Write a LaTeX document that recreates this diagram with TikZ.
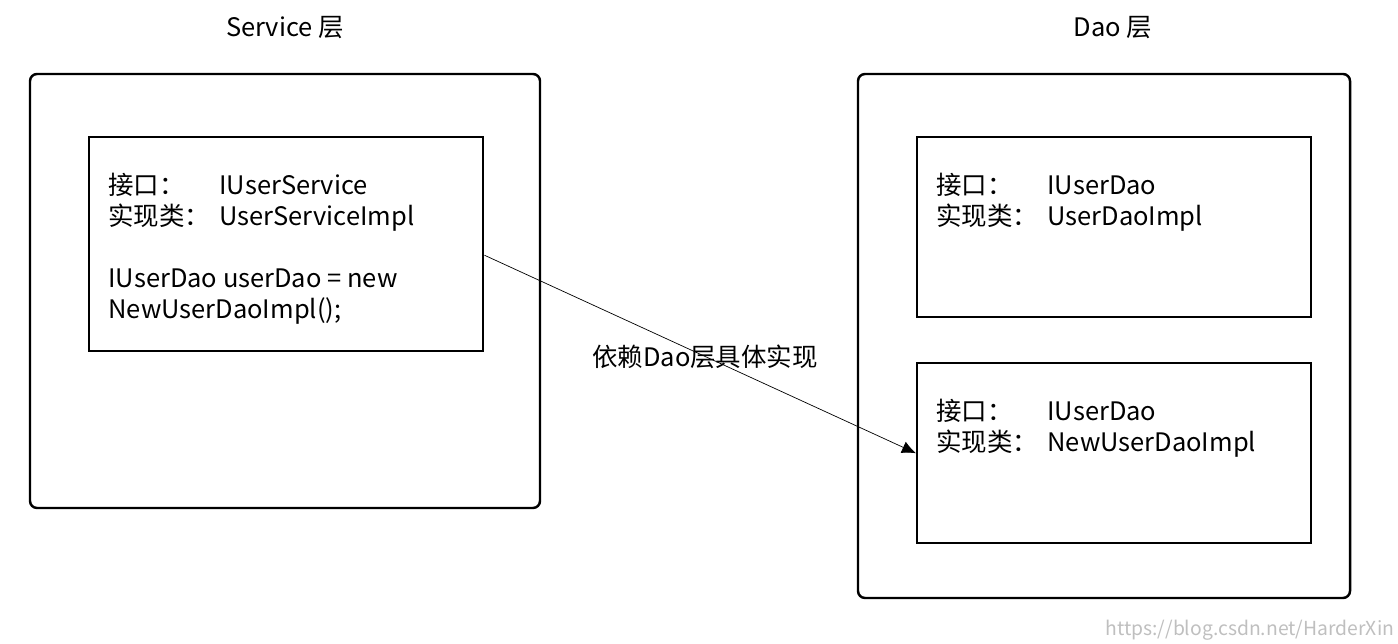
\documentclass[tikz,border=0pt]{standalone}
\usepackage{fontspec}
\setmainfont{Noto Sans CJK SC}
\usetikzlibrary{positioning, arrows.meta}
\newcommand{\lbl}[1]{\makebox[2.22cm][l]{#1}}
\begin{document}
\begin{tikzpicture}[x=0.02cm, y=-0.02cm,
    layer/.style={draw, line width=1.4pt, rounded corners=4pt},
    impl/.style={draw, line width=1.4pt, anchor=north west, inner sep=0pt},
    txt/.style={anchor=north west, align=left, inner sep=0pt, font=\fontsize{14.5}{17.8}\selectfont},
    arrow/.style={-{Latex[length=8pt,width=7pt]}, thin}
]
    \useasboundingbox (0,0) rectangle (1398,644);
    % layers
    \draw[layer] (30,74) rectangle (540,508);
    \draw[layer] (858,74) rectangle (1350,598);
    \node[font=\fontsize{14.5}{17}\selectfont] (svctitle) at (285,28) {Service 层};
    \node[font=\fontsize{14.5}{17}\selectfont] (daotitle) at (1113,28) {Dao 层};

    % boxes
    \node[impl, minimum width=394*0.02cm, minimum height=214*0.02cm] (svc) at (88,136) {};
    \node[impl, minimum width=394*0.02cm, minimum height=180*0.02cm] (daoimpl) at (916,136) {};
    \node[impl, minimum width=394*0.02cm, minimum height=180*0.02cm] (newimpl) at (916,362) {};

    \node[txt] (svctext) at (108,173) {\lbl{接口：}IUserService\\\lbl{实现类：}UserServiceImpl\\[17pt]IUserDao userDao = new\\NewUserDaoImpl();};
    \node[txt] (daotext) at (936,173) {\lbl{接口：}IUserDao\\\lbl{实现类：}UserDaoImpl};
    \node[txt] (newtext) at (936,399) {\lbl{接口：}IUserDao\\\lbl{实现类：}NewUserDaoImpl};

    \draw[arrow] ([yshift=-0.22cm]svc.east) -- (newimpl.west);
    \node[font=\fontsize{14.5}{17}\selectfont] (dep) at (705,357) {依赖Dao层具体实现};

    \node[anchor=south east, text=black!25, font=\fontsize{11}{13}\selectfont, inner sep=2pt] (mark) at (1398,644) {https://blog.csdn.net/HarderXin};
\end{tikzpicture}
\end{document}
